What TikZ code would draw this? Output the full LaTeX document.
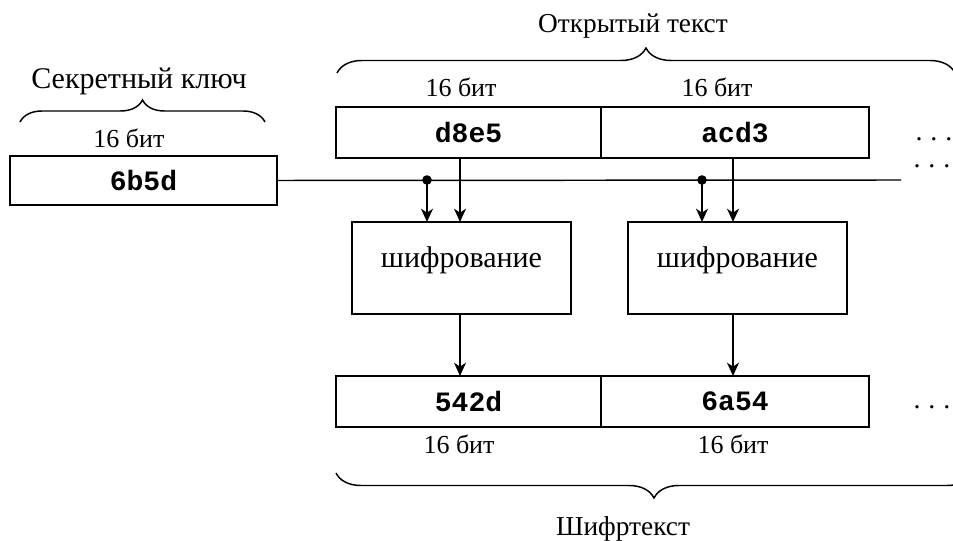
\documentclass[tikz,border=0pt]{standalone}
\usepackage{fontspec}
\setmainfont{Liberation Serif}
\setmonofont{Liberation Mono}
\usetikzlibrary{arrows.meta,decorations.pathreplacing}
\begin{document}
\begin{tikzpicture}[x=0.75pt,y=-0.75pt,
  font=\fontsize{19.5}{22}\selectfont,
  cell/.style={draw, line width=1.5pt, inner sep=0pt, outer sep=0pt,
    font=\fontsize{21}{22}\ttfamily\bfseries},
  encbox/.style={draw, line width=1.5pt, inner sep=0pt, outer sep=0pt,
    minimum width={219*0.75pt}, minimum height={92*0.75pt},
    font=\fontsize{22.5}{26}\selectfont, text height=0.4em, text depth=0.4em},
  lbl/.style={anchor=base, inner sep=0pt},
  title/.style={anchor=base, inner sep=0pt, font=\fontsize{20.5}{24}\selectfont},
  arr/.style={line width=1.1pt, -{Stealth[length=10pt,width=9pt,inset=3pt]}},
  wire/.style={line width=1.1pt},
  brc/.style={line width=1.1pt, decorate, decoration={brace, amplitude=#1}},
  dots/.style={anchor=base, inner sep=0pt, font=\fontsize{21}{22}\selectfont}
]
\useasboundingbox (0,0) rectangle (953,541);
% key
\node[title, font=\fontsize{22.5}{26}\selectfont] (keytitle) at (139,89) {Секретный ключ};
\draw[brc={22*0.75pt}] (20,122) -- (265,122);
\node[lbl] (keybits) at (129,148) {16 бит};
\node[cell, minimum width={267*0.75pt}, minimum height={49*0.75pt}] (k) at (143.5,180.5) {6b5d};
% plaintext
\node[title] (pttitle) at (633,33) {Открытый текст};
\draw[brc={25*0.75pt}] (337,73) -- (955,73);
\node[lbl] (pb1) at (461,97) {16 бит};
\node[lbl] (pb2) at (717,97) {16 бит};
\node[cell, minimum width={265*0.75pt}, minimum height={51*0.75pt}] (p1) at (468.5,132.5) {d8e5};
\node[cell, minimum width={268*0.75pt}, minimum height={51*0.75pt}] (p2) at (735,132.5) {acd3};
\node[dots] (pdots) at (934,141) {.\hspace{6pt}.\hspace{6pt}.};
\node[dots] (ldots) at (932,168) {.\hspace{6pt}.\hspace{6pt}.};
% key line
\coordinate (lend) at (901,180);
\draw[wire] (k.east) -- (lend);
\coordinate (j1) at (427,180);
\coordinate (j2) at (702,180);
\fill (j1) circle (3.6pt);
\fill (j2) circle (3.6pt);
\coordinate (x1) at (460,0);
\coordinate (x2) at (733,0);
% encryption
\node[encbox] (e1) at (461.5,268) {шифрование};
\node[encbox] (e2) at (737.5,268) {шифрование};
\draw[arr] (j1) -- (e1.north -| j1);
\draw[arr] (p1.south -| x1) -- (e1.north -| x1);
\draw[arr] (j2) -- (e2.north -| j2);
\draw[arr] (p2.south -| x2) -- (e2.north -| x2);
% ciphertext
\node[cell, minimum width={265*0.75pt}, minimum height={51*0.75pt}] (c1) at (468.5,401.5) {542d};
\node[cell, minimum width={268*0.75pt}, minimum height={51*0.75pt}] (c2) at (735,401.5) {6a54};
\node[dots] (cdots) at (932,409) {.\hspace{6pt}.\hspace{6pt}.};
\draw[arr] (e1.south -| x1) -- (c1.north -| x1);
\draw[arr] (e2.south -| x2) -- (c2.north -| x2);
\node[lbl] (cb1) at (459,454) {16 бит};
\node[lbl] (cb2) at (733,454) {16 бит};
\draw[brc={25*0.75pt}] (972,473) -- (336,473);
\node[title] (cttitle) at (623,535) {Шифртекст};
\end{tikzpicture}
\end{document}
